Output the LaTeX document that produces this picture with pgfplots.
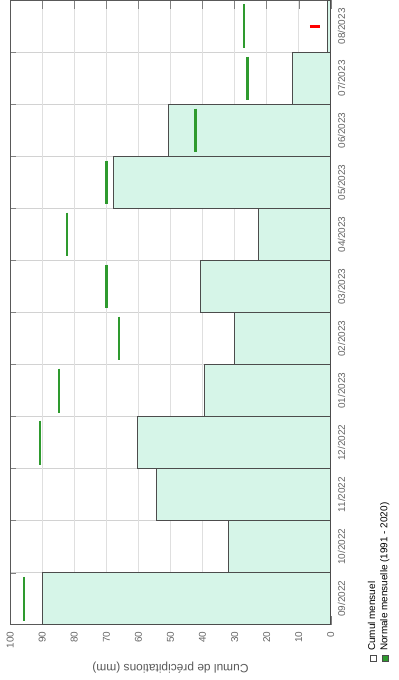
\documentclass[border=0pt]{standalone}
\usepackage{pgfplots}
\pgfplotsset{compat=1.18}
\usepackage{graphicx}
\usepackage{fontspec}
\setmainfont{Liberation Sans}
\definecolor{barfill}{HTML}{D6F5E8}
\definecolor{normg}{HTML}{2E9A2E}
\begin{document}
\rotatebox{90}{%
\begin{tikzpicture}
\begin{axis}[
  scale only axis, width=313.5pt, height=161pt,
  xmin=-0.5, xmax=11.5, ymin=0, ymax=100,
  xtick={0,...,11},
  xticklabels={09/2022,10/2022,11/2022,12/2022,01/2023,02/2023,03/2023,04/2023,05/2023,06/2023,07/2023,08/2023},
  minor xtick={0.5,1.5,...,10.5},
  xminorgrids, major x tick style={draw=none},
  ytick={0,10,...,100}, ymajorgrids,
  grid style={gray!25}, minor grid style={gray!35},
  ticklabel style={font=\fontsize{5}{6}\selectfont, text=gray!80!black},
  /pgf/number format/assume math mode=true,
  ylabel={Cumul de précipitations (mm)},
  ylabel style={font=\fontsize{6}{7}\selectfont, text=gray!70!black},
  axis line style={gray!70!black},
  legend style={at={(-0.07,-0.09)}, anchor=north west, draw=none, fill=none,
    font=\fontsize{5}{6}\selectfont, row sep=-3pt, cells={anchor=west}},
  legend cell align=left,
]
\addplot[ybar, bar width=1, fill=barfill, draw=gray!60!black,
  legend image code/.code={\draw[gray!60!black,fill=white] (0,-1.6pt) rectangle (3.2pt,1.6pt);}] coordinates {
 (0,90) (1,32) (2,54.3) (3,60.2) (4,39.4) (5,30.1) (6,40.7) (7,22.7) (8,67.7) (9,50.6) (10,12.1) (11,1)};
\addlegendentry{Cumul mensuel}
\addplot[only marks, mark=-, mark size=11pt, normg, mark options={line width=1.2pt},
  legend image code/.code={\draw[gray!60!black,fill=normg] (0,-1.6pt) rectangle (3.2pt,1.6pt);}] coordinates {
 (0,95.6) (3,90.7) (4,84.8) (5,66.1) (6,69.9) (7,82.3) (8,69.9) (9,42.2) (10,26) (11,27)};
\addlegendentry{Normale mensuelle (1991 - 2020)}
\addplot[only marks, mark=|, mark size=2.5pt, red, mark options={line width=1.2pt}, forget plot] coordinates {(11,5)};
\end{axis}
\end{tikzpicture}}
\end{document}
